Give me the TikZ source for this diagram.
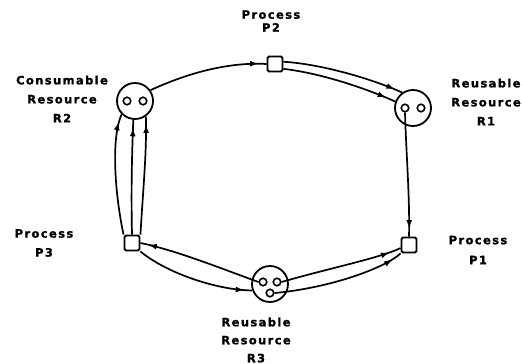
\documentclass[tikz,border=0pt]{standalone}
\usepackage{fontspec}
\setmainfont{Liberation Sans}
\newfontfamily\lblfont[LetterSpace=12,FakeBold=1.2]{DejaVu Sans Bold}
\usetikzlibrary{arrows.meta,decorations.markings}
\tikzset{
  proc/.style={draw, line width=1.9pt, minimum size=15pt, inner sep=0pt, rounded corners=1.5pt},
  res/.style={draw, circle, line width=1.8pt, minimum size=36pt, inner sep=0pt},
  tok/.style={draw, circle, line width=1.6pt, minimum size=7.5pt, inner sep=0pt},
  lbl/.style={align=center, inner sep=0pt, font={\lblfont\fontsize{11.5}{#1}\selectfont}},
  lbl/.default=19,
  flow/.style={line width=1.7pt, postaction={decorate},
    decoration={markings, mark=at position -#1 with {\arrow{Latex[length=8.5pt,width=6pt]}}}},
  flow/.default=8pt
}
\begin{document}
\begin{tikzpicture}[x=1pt,y=-1pt]
\useasboundingbox (0,0) rectangle (522,364);
% processes
\node[proc] (P2) at (275,64) {};
\node[proc] (P3) at (132,243) {};
\node[proc] (P1) at (409,245) {};
% resources
\node[res] (R2) at (135,101) {};
\node[res] (R1) at (413,108) {};
\node[res] (R3) at (270,284) {};
% tokens
\node[tok] (r2a) at (127,101) {};
\node[tok] (r2b) at (143,101) {};
\node[tok] (r1a) at (405,108) {};
\node[tok] (r1b) at (421,108) {};
\node[tok] (r3a) at (263,282) {};
\node[tok] (r3b) at (277,282) {};
\node[tok] (r3c) at (270,293) {};
% labels
\node[lbl=13] (lP2) at (271,21) {Process\\P2};
\node[lbl] (lR2) at (62,99) {Consumable\\Resource\\R2};
\node[lbl] (lR1) at (486,102) {Reusable\\Resource\\R1};
\node[lbl] (lP3) at (44,243) {Process\\P3};
\node[lbl=20] (lP1) at (478,250) {Process\\P1};
\node[lbl=18] (lR3) at (256,340) {Reusable\\Resource\\R3};
% connectors
\draw[flow] (R2.35) .. controls (190,72) and (230,62) .. (P2.west);
\draw[flow] (P2.15) .. controls (320,64) and (370,78) .. (R1.125);
\draw[flow=10pt] (P2.-30) .. controls (320,73) and (365,88) .. (R1.160);
\draw[flow] (r1a.south) .. controls (406,150) and (410,200) .. (P1.north);
\draw[flow] (P3.north west) .. controls (116,200) and (110,140) .. (R2.-135);
\draw[flow] (P3.north) .. controls (131,190) and (132,150) .. (R2.-95);
\draw[flow] (P3.north east) .. controls (143,190) and (147,150) .. (R2.-55);
\draw[flow] (r3a.west) .. controls (220,268) and (175,250) .. (P3.east);
\draw[flow] (P3.south east) .. controls (165,272) and (215,290) .. (R3.-160);
\draw[flow=12pt] (r3b.east) .. controls (330,268) and (380,258) .. (P1.-160);
\draw[flow=10pt] (r3c.east) .. controls (330,288) and (385,268) .. (P1.south west);
\end{tikzpicture}
\end{document}
